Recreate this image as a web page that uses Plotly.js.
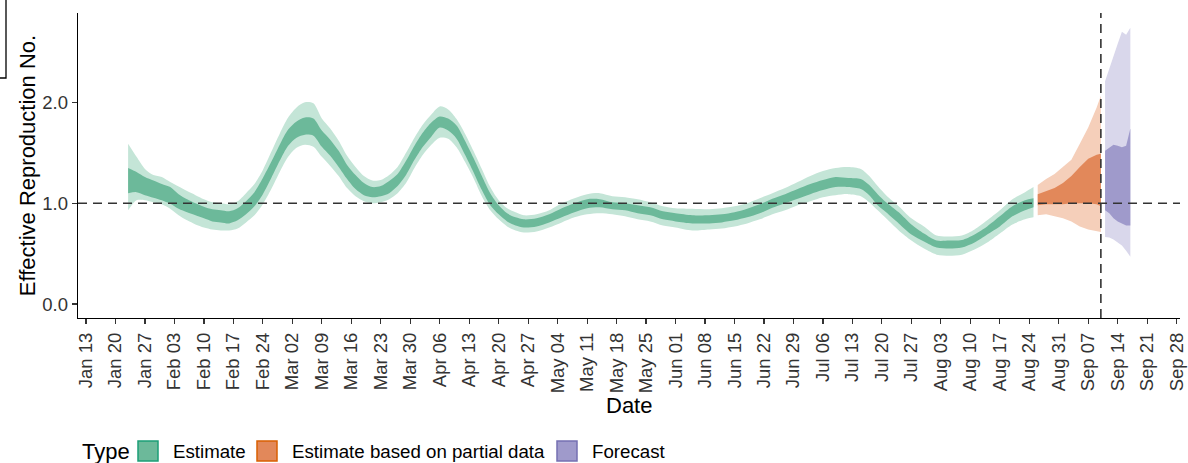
<!DOCTYPE html>
<html>
<head>
<meta charset="utf-8">
<script src="https://cdn.plot.ly/plotly-3.0.1.min.js"></script>
<style>html,body{margin:0;padding:0;background:#fff;} #chart{width:1188px;height:463px;}</style>
</head>
<body>
<div id="chart"></div>
<script>
// ---- Data ----
const estimateDates = ['2020-01-23','2020-01-25','2020-01-27','2020-01-29','2020-01-31','2020-02-02','2020-02-04','2020-02-06','2020-02-08','2020-02-10',
 '2020-02-12','2020-02-14','2020-02-16','2020-02-18','2020-02-20','2020-02-22','2020-02-24','2020-02-26','2020-02-28','2020-03-01',
 '2020-03-03','2020-03-05','2020-03-07','2020-03-09','2020-03-11','2020-03-13','2020-03-15','2020-03-17','2020-03-19','2020-03-21',
 '2020-03-23','2020-03-25','2020-03-27','2020-03-29','2020-03-31','2020-04-02','2020-04-04','2020-04-06','2020-04-08','2020-04-10',
 '2020-04-12','2020-04-14','2020-04-16','2020-04-18','2020-04-20','2020-04-22','2020-04-24','2020-04-26','2020-04-29','2020-05-02',
 '2020-05-05','2020-05-08','2020-05-11','2020-05-14','2020-05-17','2020-05-20','2020-05-23','2020-05-26','2020-05-29','2020-06-01',
 '2020-06-05','2020-06-09','2020-06-12','2020-06-15','2020-06-18','2020-06-21','2020-06-24','2020-06-27','2020-06-30','2020-07-03',
 '2020-07-06','2020-07-09','2020-07-12','2020-07-15','2020-07-17','2020-07-19','2020-07-21','2020-07-24','2020-07-27','2020-07-30',
 '2020-08-02','2020-08-05','2020-08-08','2020-08-11','2020-08-14','2020-08-17','2020-08-20','2020-08-23','2020-08-25'];
const estimateLower90 = [0.93,1.03,1.03,1.01,0.99,0.945,0.88,0.83,0.79,0.76,
 0.74,0.73,0.73,0.75,0.81,0.88,0.99,1.14,1.31,1.46,
 1.55,1.58,1.56,1.46,1.37,1.27,1.15,1.07,1.02,1.00,
 1.01,1.04,1.10,1.20,1.35,1.48,1.58,1.65,1.64,1.555,
 1.41,1.25,1.07,0.93,0.84,0.77,0.73,0.71,0.72,0.76,
 0.81,0.86,0.89,0.90,0.89,0.87,0.84,0.82,0.78,0.76,
 0.73,0.74,0.75,0.77,0.80,0.84,0.89,0.93,0.98,1.02,
 1.06,1.08,1.09,1.07,1.01,0.93,0.85,0.73,0.63,0.55,
 0.49,0.48,0.49,0.54,0.61,0.70,0.79,0.84,0.86];
const estimateLower50 = [1.10,1.11,1.08,1.055,1.03,0.995,0.945,0.91,0.88,0.85,
 0.82,0.81,0.80,0.83,0.89,0.97,1.09,1.25,1.42,1.57,
 1.65,1.68,1.67,1.56,1.47,1.36,1.24,1.14,1.08,1.06,
 1.07,1.10,1.17,1.28,1.43,1.56,1.66,1.75,1.72,1.64,
 1.48,1.31,1.13,0.98,0.89,0.82,0.78,0.76,0.77,0.81,
 0.86,0.91,0.95,0.96,0.94,0.93,0.90,0.88,0.84,0.82,
 0.80,0.80,0.81,0.83,0.86,0.90,0.955,1.00,1.045,1.09,
 1.13,1.16,1.16,1.14,1.08,0.98,0.91,0.80,0.69,0.62,
 0.56,0.55,0.56,0.61,0.69,0.77,0.87,0.93,0.96];
const estimateUpper50 = [1.35,1.31,1.26,1.225,1.19,1.16,1.09,1.04,1.00,0.965,
 0.94,0.93,0.92,0.95,1.02,1.11,1.25,1.41,1.58,1.73,
 1.81,1.85,1.84,1.72,1.63,1.52,1.38,1.28,1.20,1.16,
 1.17,1.22,1.29,1.42,1.57,1.70,1.80,1.86,1.84,1.77,
 1.62,1.45,1.27,1.10,0.98,0.90,0.86,0.84,0.85,0.89,
 0.95,1.00,1.04,1.04,1.01,1.00,0.98,0.96,0.92,0.90,
 0.88,0.88,0.89,0.91,0.945,0.99,1.045,1.09,1.14,1.19,
 1.23,1.26,1.25,1.24,1.18,1.09,1.01,0.91,0.79,0.70,
 0.63,0.63,0.635,0.69,0.77,0.87,0.97,1.03,1.05];
const estimateUpper90 = [1.59,1.46,1.34,1.28,1.26,1.21,1.165,1.12,1.08,1.04,
 1.01,1.00,0.99,1.02,1.10,1.19,1.33,1.51,1.69,1.85,
 1.95,2.00,1.99,1.84,1.74,1.62,1.47,1.36,1.27,1.225,
 1.23,1.28,1.36,1.50,1.65,1.78,1.88,1.96,1.93,1.835,
 1.69,1.52,1.34,1.16,1.03,0.95,0.91,0.88,0.89,0.93,
 1.00,1.05,1.09,1.10,1.07,1.06,1.04,1.01,0.97,0.95,
 0.945,0.94,0.95,0.97,1.00,1.05,1.10,1.15,1.21,1.27,
 1.32,1.35,1.36,1.34,1.27,1.17,1.08,0.97,0.85,0.77,
 0.68,0.67,0.68,0.74,0.83,0.93,1.04,1.11,1.16];

const partialDates   = ['2020-08-26','2020-08-28','2020-08-30','2020-09-01','2020-09-03','2020-09-05','2020-09-07','2020-09-09','2020-09-10'];
const partialLower90 = [0.88,0.89,0.87,0.85,0.82,0.77,0.74,0.72,0.715];
const partialLower50 = [0.98,0.99,0.99,0.99,1.00,1.00,1.00,0.99,0.97];
const partialUpper50 = [1.09,1.12,1.15,1.20,1.27,1.36,1.44,1.48,1.49];
const partialUpper90 = [1.18,1.24,1.29,1.36,1.43,1.59,1.75,1.95,2.065];

const forecastDates   = ['2020-09-11','2020-09-12','2020-09-13','2020-09-14','2020-09-15','2020-09-16','2020-09-17'];
const forecastLower90 = [0.665,0.66,0.64,0.61,0.58,0.53,0.47];
const forecastLower50 = [0.93,0.90,0.85,0.82,0.80,0.78,0.78];
const forecastUpper50 = [1.52,1.55,1.58,1.57,1.555,1.57,1.74];
const forecastUpper90 = [2.21,2.34,2.46,2.58,2.70,2.67,2.74];

const legendTitle = 'Type';
const xTitle = 'Date';
const yTitle = 'Effective Reproduction No.';
const typeLabels = ['Estimate','Estimate based on partial data','Forecast'];
const yTickValues = [0, 1, 2];
const referenceR = 1;
const lastDataDate = '2020-09-10';

// ---- Styling / layout geometry ----
const FONT = 'Liberation Sans, Arial, Helvetica, sans-serif';
const W = 1188, H = 463, ML = 78, MR = 8, MT = 13, MB = 145;
const PW = W - ML - MR, PH = H - MT - MB;
const px2x = p => (p - ML) / PW;           // pixel -> paper x
const py2y = p => (H - MB - p) / PH;       // pixel -> paper y

const palette = {
  'Estimate': {light:'#c4e5d7', dark:'#6cb99a', border:'#1b9e77'},
  'Estimate based on partial data': {light:'#f5cfba', dark:'#e2885a', border:'#d95f02'},
  'Forecast': {light:'#d9d7eb', dark:'#9f9acb', border:'#7570b3'}
};

function bandTraces(name, x, lo90, lo50, hi50, hi90, shape) {
  const col = palette[name];
  const base = {x: x, type:'scatter', mode:'lines', name:name, showlegend:false, hoverinfo:'skip',
                line:{width:0, shape:shape, smoothing:0.8}};
  return [
    Object.assign({}, base, {y: lo90}),
    Object.assign({}, base, {y: hi90, fill:'tonexty', fillcolor: col.light}),
    Object.assign({}, base, {y: lo50}),
    Object.assign({}, base, {y: hi50, fill:'tonexty', fillcolor: col.dark})
  ];
}

let traces = [];
traces = traces.concat(bandTraces(typeLabels[0], estimateDates, estimateLower90, estimateLower50, estimateUpper50, estimateUpper90, 'spline'));
traces = traces.concat(bandTraces(typeLabels[1], partialDates, partialLower90, partialLower50, partialUpper50, partialUpper90, 'linear'));
traces = traces.concat(bandTraces(typeLabels[2], forecastDates, forecastLower90, forecastLower50, forecastUpper50, forecastUpper90, 'linear'));

// ---- Legend (ggplot-style keys) ----
const legendY = 451;
const keyLeft = [138, 257, 557];
const keySize = 20;
const shapes = [
  {type:'line', xref:'paper', x0:0, x1:1, yref:'y', y0:referenceR, y1:referenceR,
   line:{color:'#333', width:1.6, dash:'9px,6px'}, layer:'above'},
  {type:'line', xref:'x', x0:lastDataDate, x1:lastDataDate, yref:'paper', y0:0, y1:1,
   line:{color:'#333', width:1.6, dash:'9px,6px'}, layer:'above'},
  {type:'rect', xref:'paper', yref:'paper', x0:px2x(-10), x1:px2x(6), y0:py2y(78), y1:py2y(-10),
   line:{color:'#000', width:1.3}, fillcolor:'rgba(0,0,0,0)', layer:'above'}
];
const annotations = [
  {xref:'paper', yref:'paper', x:0.5, y:py2y(391), xanchor:'center', yanchor:'top',
   text:xTitle, showarrow:false, font:{family:FONT, size:22, color:'#000'}},
  {xref:'paper', yref:'paper', x:px2x(80), y:py2y(legendY), xanchor:'left', yanchor:'middle',
   text:legendTitle, showarrow:false, font:{family:FONT, size:22, color:'#000'}}
];
typeLabels.forEach(function(name, i){
  shapes.push({type:'rect', xref:'paper', yref:'paper',
    x0:px2x(keyLeft[i]), x1:px2x(keyLeft[i]+keySize),
    y0:py2y(legendY+keySize/2), y1:py2y(legendY-keySize/2),
    fillcolor:palette[name].dark, line:{color:palette[name].border, width:1.5}, layer:'above'});
  annotations.push({xref:'paper', yref:'paper', x:px2x(keyLeft[i]+keySize+13), y:py2y(legendY),
    xanchor:'left', yanchor:'middle', text:name, showarrow:false,
    font:{family:FONT, size:18.7, color:'#000'}});
});

const layout = {
  width:W, height:H,
  margin:{l:ML, r:MR, t:MT, b:MB},
  paper_bgcolor:'#ffffff', plot_bgcolor:'#ffffff',
  font:{family:FONT, color:'#000'},
  showlegend:false,
  xaxis:{
    type:'date', range:['2020-01-11 02:24','2020-09-28 19:00'],
    tick0:'2020-01-13', dtick:7*86400000, tickformat:'%b %d', tickangle:-90,
    ticks:'outside', ticklen:5, tickwidth:1.2, tickcolor:'#333',
    showline:true, linecolor:'#000', linewidth:1.3, showgrid:false, zeroline:false,
    tickfont:{family:FONT, size:18.5, color:'#333'}, ticklabelstandoff:1,
    automargin:false
  },
  yaxis:{
    range:[-0.138, 2.886], tickvals:yTickValues, tickformat:'.1f',
    ticks:'outside', ticklen:5, tickwidth:1.2, tickcolor:'#333',
    showline:true, linecolor:'#000', linewidth:1.3, showgrid:false, zeroline:false,
    tickfont:{family:FONT, size:18.5, color:'#333'},
    automargin:false,
    title:{text:yTitle, font:{family:FONT, size:22, color:'#000'}, standoff:0}
  },
  shapes:shapes,
  annotations:annotations
};

Plotly.newPlot('chart', traces, layout, {displayModeBar:false, staticPlot:true});
</script>
</body>
</html>
